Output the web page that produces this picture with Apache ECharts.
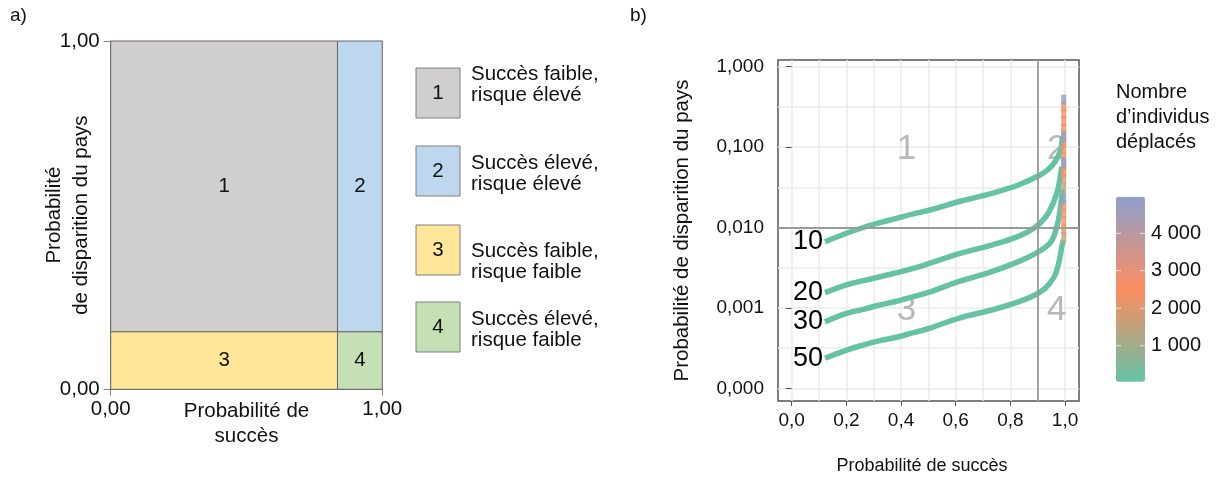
<!DOCTYPE html>
<html>
<head>
<meta charset="utf-8">
<script src="https://cdn.jsdelivr.net/npm/echarts@6/dist/echarts.min.js"></script>
<style>
  html, body { margin: 0; padding: 0; background: #fff; }
  #main { width: 1219px; height: 482px; }
</style>
</head>
<body>
<div id="main"></div>
<script>
var FONT = '"Liberation Sans", Arial, sans-serif';
var NARROW = '"Liberation Sans Narrow", "Arial Narrow", "Liberation Sans", sans-serif';

// panneau a : découpage des 4 zones
var splitX = 0.835;
var splitY = 0.165;
var zoneNames = ['1', '2', '3', '4'];
var zoneColors = ['#d0cece', '#bdd7ee', '#ffe699', '#c5e0b4'];
var zoneTexts = ['Succès faible,\nrisque élevé', 'Succès élevé,\nrisque élevé',
                 'Succès faible,\nrisque faible', 'Succès élevé,\nrisque faible'];

// panneau b : courbes (probabilité de succès, probabilité de disparition)
var curveNames = ['10', '20', '30', '50'];
var curve10X = [0.122, 0.201, 0.262, 0.323, 0.384, 0.445, 0.506, 0.610, 0.732, 0.829, 0.902, 0.939, 0.963, 0.982, 0.988, 0.990];
var curve10Y = [0.00665, 0.00847, 0.0100, 0.0115, 0.0130, 0.0148, 0.0165, 0.0209, 0.0266, 0.0338, 0.0437, 0.0530, 0.0658, 0.0877, 0.111, 0.135];
var curve20X = [0.122, 0.201, 0.262, 0.323, 0.384, 0.445, 0.506, 0.610, 0.732, 0.829, 0.890, 0.927, 0.951, 0.965, 0.976, 0.988];
var curve20Y = [0.00155, 0.00193, 0.00218, 0.00244, 0.00274, 0.00310, 0.00360, 0.00470, 0.00605, 0.00776, 0.0100, 0.0132, 0.0182, 0.0240, 0.0321, 0.057];
var curve30X = [0.122, 0.201, 0.262, 0.323, 0.384, 0.445, 0.506, 0.610, 0.732, 0.829, 0.890, 0.927, 0.951, 0.970, 0.982, 0.990];
var curve30Y = [0.000673, 0.000857, 0.000959, 0.00109, 0.00121, 0.00138, 0.00158, 0.00212, 0.00282, 0.00376, 0.00470, 0.00565, 0.0068, 0.0102, 0.0165, 0.0300];
var curve50X = [0.122, 0.201, 0.262, 0.323, 0.384, 0.445, 0.506, 0.610, 0.732, 0.829, 0.890, 0.927, 0.957, 0.970, 0.982, 0.988, 0.994];
var curve50Y = [0.000236, 0.000299, 0.000345, 0.000391, 0.000431, 0.000492, 0.000560, 0.000743, 0.000942, 0.00119, 0.00145, 0.00175, 0.00233, 0.00296, 0.00434, 0.00577, 0.00698];

// partie verticale près de 1 : probabilité de disparition et nombre d'individus déplacés
var stackX = 0.995;
var stack10Y = [0.14, 0.17, 0.21, 0.26, 0.32, 0.39];
var stack10N = [1500, 2100, 2500, 2600, 2500, 4900];
var stack20Y = [0.06, 0.075, 0.095, 0.115, 0.132];
var stack20N = [1300, 2000, 2400, 2600, 4900];
var stack30Y = [0.031, 0.04, 0.05, 0.063];
var stack30N = [1300, 2000, 2500, 4900];
var stack50Y = [0.0075, 0.0095, 0.012, 0.015, 0.019, 0.023];
var stack50N = [1500, 2100, 2400, 2600, 2500, 4900];

// étiquettes des zones dans le panneau b
var regionLabelX = [0.42, 0.97, 0.42, 0.97];
var regionLabelY = [0.093, 0.093, 0.00093, 0.00093];

// graduations
var xTicks = [0, 0.2, 0.4, 0.6, 0.8, 1.0];
var xGrid = [0, 0.1, 0.2, 0.3, 0.4, 0.5, 0.6, 0.7, 0.8, 0.9, 1.0];
var yTicks = [0.0001, 0.001, 0.01, 0.1, 1];
var yGrid = [0.0001, 0.000316, 0.001, 0.00316, 0.01, 0.0316, 0.1, 0.316, 1];
var colorTicks = [1000, 2000, 3000, 4000];
var nMin = 40, nMax = 4976;

var myChart = echarts.init(document.getElementById('main'));

function zip(xs, ys) {
    return xs.map(function (x, i) { return [x, ys[i]]; });
}

var curves = [[curve10X, curve10Y], [curve20X, curve20Y], [curve30X, curve30Y], [curve50X, curve50Y]];
var stacks = [[stack10Y, stack10N], [stack20Y, stack20N], [stack30Y, stack30N], [stack50Y, stack50N]];

var stackData = [];
stacks.forEach(function (s) {
    s[0].forEach(function (y, i) { stackData.push([stackX, y, s[1][i]]); });
});
// les plus grands nombres dessinés par-dessus
stackData.sort(function (a, b) { return a[2] - b[2]; });

var zoneData = [
    [0, splitX, splitY, 1],
    [splitX, 1, splitY, 1],
    [0, splitX, 0, splitY],
    [splitX, 1, 0, splitY]
];

function renderZone(params, api) {
    var p0 = api.coord([api.value(0), api.value(3)]);
    var p1 = api.coord([api.value(1), api.value(2)]);
    return {
        type: 'rect',
        shape: { x: p0[0], y: p0[1], width: p1[0] - p0[0], height: p1[1] - p0[1] },
        style: { fill: zoneColors[params.dataIndex], stroke: '#666', lineWidth: 1 },
        textContent: { style: { text: zoneNames[params.dataIndex], fontSize: 20.5, fontFamily: FONT, fill: '#111' } },
        textConfig: { position: 'inside' }
    };
}

var series = [];

// étiquettes 1..4 + lignes de seuil
series.push({
    type: 'scatter',
    xAxisIndex: 1, yAxisIndex: 1,
    z: 1,
    symbolSize: 0,
    silent: true,
    data: zip(regionLabelX, regionLabelY).map(function (p, i) {
        return { value: p, label: { formatter: zoneNames[i] } };
    }),
    label: { show: true, position: 'inside', fontSize: 35, fontFamily: NARROW, color: '#a6a6a6' },
    markLine: {
        silent: true,
        symbol: 'none',
        label: { show: false },
        lineStyle: { color: '#9a9a9a', width: 1.8, type: 'solid' },
        data: [{ xAxis: 0.9 }, { yAxis: 0.01 }]
    }
});

curves.forEach(function (c, k) {
    series.push({
        type: 'line',
        name: curveNames[k],
        xAxisIndex: 1, yAxisIndex: 1,
        z: 2,
        smooth: 0.4,
        symbol: 'none',
        lineStyle: { color: '#66c2a5', width: 5.5 },
        data: zip(c[0], c[1]),
        markPoint: {
            symbol: 'circle',
            symbolSize: 0,
            silent: true,
            label: { show: true, position: 'left', distance: 2, formatter: curveNames[k],
                     fontSize: 27, fontFamily: NARROW, color: '#000' },
            data: [{ coord: [c[0][0], c[1][0]] }]
        }
    });
});

series.push({
    type: 'scatter',
    xAxisIndex: 1, yAxisIndex: 1,
    z: 3,
    symbol: 'rect',
    symbolSize: [5, 10],
    data: stackData
});

series.push({
    type: 'custom',
    xAxisIndex: 0, yAxisIndex: 0,
    renderItem: renderZone,
    encode: { x: [0, 1], y: [2, 3] },
    data: zoneData
});

// légende du panneau a et textes
var graphics = [
    { type: 'text', left: 10, top: 6, style: { text: 'a)', fontSize: 19, fontFamily: FONT, fill: '#111' } },
    { type: 'text', left: 630, top: 6, style: { text: 'b)', fontSize: 19, fontFamily: FONT, fill: '#111' } },
    { type: 'text', left: 1116, top: 80, style: { text: 'Nombre\nd\u2019individus\ndéplacés', fontSize: 20, lineHeight: 25, fontFamily: FONT, fill: '#111' } }
];
var boxTops = [68, 146, 225, 302];
var textCenters = [85, 174, 262, 330];
zoneTexts.forEach(function (t, i) {
    graphics.push({
        type: 'rect', shape: { x: 416, y: boxTops[i], width: 44, height: 50 },
        style: { fill: zoneColors[i], stroke: '#7f7f7f', lineWidth: 1 }
    });
    graphics.push({
        type: 'text', x: 438, y: boxTops[i] + 25,
        style: { text: zoneNames[i], fontSize: 20.5, fontFamily: FONT, fill: '#111', align: 'center', verticalAlign: 'middle' }
    });
    graphics.push({
        type: 'text', x: 471, y: textCenters[i],
        style: { text: t, fontSize: 20.5, lineHeight: 21, fontFamily: FONT, fill: '#111', verticalAlign: 'middle' }
    });
});

// graduations de la barre de couleur
var cbTop = 196.7, cbHeight = 185, cbLeft = 1116, cbWidth = 29;
colorTicks.forEach(function (v) {
    var y = cbTop + (nMax - v) / (nMax - nMin) * cbHeight;
    graphics.push({ type: 'line', shape: { x1: cbLeft, y1: y, x2: cbLeft + 5, y2: y }, style: { stroke: 'rgba(255,255,255,0.7)', lineWidth: 1 }, z: 100 });
    graphics.push({ type: 'line', shape: { x1: cbLeft + cbWidth - 5, y1: y, x2: cbLeft + cbWidth, y2: y }, style: { stroke: 'rgba(255,255,255,0.7)', lineWidth: 1 }, z: 100 });
    graphics.push({
        type: 'text', x: cbLeft + cbWidth + 6, y: y,
        style: { text: String(v / 1000) + ' 000', fontSize: 20, fontFamily: FONT, fill: '#111', verticalAlign: 'middle' }
    });
});

function fmt2(v) { return v.toFixed(2).replace('.', ','); }

option = {
    animation: false,
    backgroundColor: '#fff',
    textStyle: { fontFamily: FONT },
    grid: [
        { left: 110.7, top: 41, width: 271.6, height: 348.3 },
        { left: 778, top: 60, width: 301, height: 341, show: true, borderColor: '#555', borderWidth: 1.5, backgroundColor: 'transparent' }
    ],
    xAxis: [
        {
            gridIndex: 0, type: 'value', min: 0, max: 1, interval: 1,
            name: 'Probabilité de\nsuccès', nameLocation: 'middle', nameGap: 10, nameMoveOverlap: false,
            nameTextStyle: { fontSize: 20.5, lineHeight: 25, color: '#111', verticalAlign: 'top' },
            axisLine: { lineStyle: { color: '#7f7f7f' } },
            axisTick: { length: 6, lineStyle: { color: '#7f7f7f' } },
            axisLabel: { margin: 10, fontSize: 20.5, color: '#111', formatter: fmt2 },
            splitLine: { show: false }
        },
        {
            gridIndex: 1, type: 'value', min: -0.05, max: 1.051,
            name: 'Probabilité de succès', nameLocation: 'middle', nameGap: 56,
            nameTextStyle: { fontSize: 18, color: '#111', padding: [0, 13, 0, 0] },
            axisLine: { show: false },
            axisTick: { length: 5, customValues: xTicks, lineStyle: { color: '#555' } },
            axisLabel: { margin: 10, fontSize: 19, color: '#111', customValues: xTicks,
                         formatter: function (v) { return v.toFixed(1).replace('.', ','); } },
            splitLine: { show: false }
        },
        {
            gridIndex: 1, type: 'value', min: -0.05, max: 1.051,
            axisLine: { show: false },
            axisTick: { show: false, customValues: xGrid },
            axisLabel: { show: false },
            splitLine: { show: true, lineStyle: { color: '#ebebeb', width: 1.5 } }
        }
    ],
    yAxis: [
        {
            gridIndex: 0, type: 'value', min: 0, max: 1, interval: 1,
            name: 'Probabilité\nde disparition du pays', nameLocation: 'middle', nameRotate: 90, nameGap: 16,
            nameMoveOverlap: false,
            nameTextStyle: { fontSize: 20.5, lineHeight: 27, color: '#111' },
            axisLine: { show: true, lineStyle: { color: '#7f7f7f' } },
            axisTick: { show: true, length: 7, lineStyle: { color: '#7f7f7f' } },
            axisLabel: { margin: 11, fontSize: 20.5, color: '#111', formatter: fmt2 },
            splitLine: { show: false }
        },
        {
            gridIndex: 1, type: 'log', logBase: 10, min: 0.0000695, max: 1.2114,
            name: 'Probabilité de disparition du pays', nameLocation: 'middle', nameRotate: 90, nameGap: 85,
            nameTextStyle: { fontSize: 20.5, color: '#111' },
            axisLine: { show: false },
            axisTick: { show: true, length: 6, customValues: yTicks, lineStyle: { color: '#555' } },
            axisLabel: { margin: 14, fontSize: 19, color: '#111', customValues: yTicks,
                         formatter: function (v) { return v.toFixed(3).replace('.', ','); } },
            splitLine: { show: false }
        },
        {
            gridIndex: 1, type: 'log', logBase: 10, min: 0.0000695, max: 1.2114,
            axisLine: { show: false },
            axisTick: { show: false, customValues: yGrid },
            axisLabel: { show: false },
            splitLine: { show: true, lineStyle: { color: '#ebebeb', width: 1.5 } }
        }
    ],
    visualMap: {
        type: 'continuous',
        seriesIndex: 5,
        dimension: 2,
        min: nMin,
        max: nMax,
        left: cbLeft,
        top: cbTop,
        itemWidth: cbWidth,
        itemHeight: cbHeight,
        padding: 0,
        calculable: false,
        hoverLink: false,
        inRange: { color: ['#66c2a5', '#fc8d62', '#8da0cb'] }
    },
    graphic: graphics,
    series: series
};

myChart.setOption(option);
</script>
</body>
</html>
